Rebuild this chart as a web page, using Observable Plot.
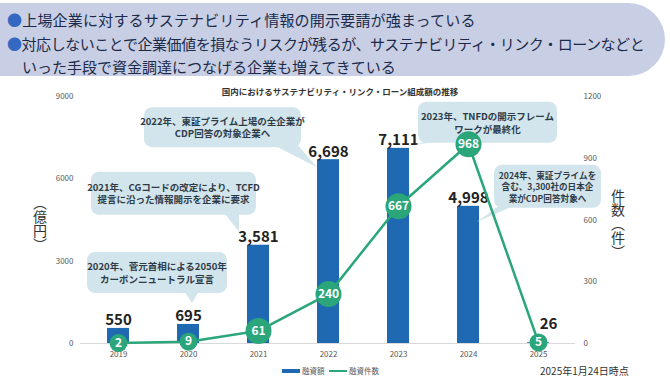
<!DOCTYPE html>
<html><head><meta charset="utf-8">
<script src="https://cdn.jsdelivr.net/npm/d3@7"></script>
<script src="https://cdn.jsdelivr.net/npm/@observablehq/plot@0.6"></script>
<style>
body{margin:0;background:#fff;font-family:"Noto Sans CJK JP","Noto Sans",sans-serif;}
#wrap{position:relative;width:670px;height:378px;overflow:hidden;}
#banner{position:absolute;left:0;top:3px;width:665px;height:73px;background:#c8cfe4;border-radius:0 38px 38px 0;}
.hl{position:absolute;font-size:15px;color:#1b2a4a;white-space:nowrap;line-height:1;}
.hl .b{color:#3568c0}
#chart{position:absolute;left:0;top:78px;}
.vt{position:absolute;writing-mode:vertical-rl;font-size:14px;color:#333;line-height:1;}
#legend{position:absolute;left:0;top:363px;width:670px;height:15px;font-size:7.5px;color:#595959;}
#legend .sw{position:absolute;top:6px;height:4px;}
#legend .tx{position:absolute;top:2px;}
#foot{position:absolute;left:540px;top:363px;font-size:10px;color:#333;white-space:nowrap;}
#chart svg [aria-label$="tick label"]{fill:#595959;}
</style></head>
<body><div id="wrap">
<div id="banner"></div>
<div class="hl" style="left:7px;top:12px;letter-spacing:0.2px;"><span class="b">●</span>上場企業に対するサステナビリティ情報の開示要請が強まっている</div>
<div class="hl" style="left:7px;top:36px;letter-spacing:-0.45px;"><span class="b">●</span>対応しないことで企業価値を損なうリスクが残るが、サステナビリティ・リンク・ローンなどと</div>
<div class="hl" style="left:22px;top:59px;">いった手段で資金調達につなげる企業も増えてきている</div>
<div id="chart"></div>
<div class="vt" style="left:33px;top:196px;">（億円）</div>
<div class="vt" style="left:611px;top:189px;">件数（件）</div>
<div id="legend"></div>
<div id="foot">2025年1月24日時点</div>
</div>
<script>
const years = ["2019","2020","2021","2022","2023","2024","2025"];
const amounts = [550, 695, 3581, 6698, 7111, 4998, 26];
const counts = [2, 9, 61, 240, 667, 968, 5];
const leftTicks = [0, 3000, 6000, 9000];
const rightTicks = [0, 300, 600, 900, 1200];
const chartTitle = "国内におけるサステナビリティ・リンク・ローン組成額の推移";
const seriesNames = ["融資額", "融資件数"];
const noteYears = ["2020", "2021", "2022", "2023", "2024"];
const noteTexts = [
  ["2020年、菅元首相による2050年", "カーボンニュートラル宣言"],
  ["2021年、CGコードの改定により、TCFD", "提言に沿った情報開示を企業に要求"],
  ["2022年、東証プライム上場の全企業が", "CDP回答の対象企業へ"],
  ["2023年、TNFDの開示フレーム", "ワークが最終化"],
  ["2024年、東証プライムを", "含む、3,300社の日本企", "業がCDP回答対象へ"]
];
// layout of callouts relative to (band centre, bar top): box [dx, dy, w, h], tail base along bottom edge, tip offset
const noteLayout = [
  {box:[-101,-72,140,41], base:[97,112], tip:[4,-21]},
  {box:[-167,-73,165,43], base:[133,148], tip:[-19,-13]},
  {box:[-184,-52,157,40], base:[130,154], tip:[-11,8]},
  {box:[20,-46,139,41], base:[10,27], tip:[17,-3]},
  {box:[26,-41,107,43], base:[5,20], tip:[9,16]}
];

const ratio = leftTicks[leftTicks.length-1] / rightTicks[rightTicks.length-1];
const data = years.map((y,i)=>({year:y, amount:amounts[i], count:counts[i]}));
const BLUE = "#1f69b3", GREEN = "#2aa67a";
const fmt = d3.format(",");
const lastYear = years[years.length-1];

const plot = Plot.plot({
  width: 670, height: 285,
  marginTop: 18, marginBottom: 20, marginLeft: 80, marginRight: 95,
  x: {domain: years, paddingInner: 0.69, paddingOuter: 0.345, axis: null, label: null},
  y: {domain: [0, leftTicks[leftTicks.length-1]], axis: null, label: null},
  r: {type: "identity"},
  style: {fontFamily: '"Noto Sans CJK JP","Noto Sans",sans-serif', background: "transparent", overflow: "visible"},
  marks: [
    Plot.ruleY([0], {stroke: "#d9d9d9", strokeWidth: 1}),
    Plot.axisX({tickSize: 0, tickPadding: 8, fontSize: 8, label: null}),
    Plot.axisY(leftTicks, {anchor: "left", tickSize: 0, tickPadding: 7, fontSize: 8, label: null, tickFormat: d => String(d)}),
    Plot.axisY(rightTicks.map(d => d*ratio), {anchor: "right", tickSize: 0, tickPadding: 8, fontSize: 8, label: null, tickFormat: d => String(Math.round(d/ratio))}),
    Plot.barY(data, {x: "year", y: "amount", fill: BLUE}),
    Plot.text(data.filter(d => d.year !== lastYear), {x: "year", y: "amount", text: d => fmt(d.amount), lineAnchor: "bottom", dy: -3, fontSize: 15, fontWeight: 700, fill: "#222"}),
    Plot.text(data.filter(d => d.year === lastYear), {x: "year", y: "amount", text: d => fmt(d.amount), lineAnchor: "bottom", dx: 10, dy: -14, fontSize: 15, fontWeight: 700, fill: "#222"}),
    Plot.line(data, {x: "year", y: d => d.count*ratio, stroke: GREEN, strokeWidth: 2.5}),
    Plot.dot(data, {x: "year", y: d => d.count*ratio, r: d => d.count < 10 ? 9 : 13, fill: GREEN}),
    Plot.text(data, {x: "year", y: d => d.count*ratio, text: d => String(d.count), fill: "white", fontWeight: 700, fontSize: 12}),
    Plot.text([chartTitle], {frameAnchor: "top", text: d => d, dx: 12, dy: -8, fontSize: 8.5, fontWeight: 700, fill: "#333"})
  ]
});
document.getElementById("chart").appendChild(plot);

// callouts anchored to the bars via the plot's scales
const xs = plot.scale("x"), ys = plot.scale("y");
const lineNode = plot.querySelector('[aria-label="line"]');
const g = d3.create("svg:g").attr("aria-label", "callouts");
noteYears.forEach((yr, i) => {
  const d = data.find(e => e.year === yr);
  const cx = xs.apply(yr) + xs.bandwidth/2;
  const top = ys.apply(d.amount);
  const L = noteLayout[i];
  const bx = cx + L.box[0], by = top + L.box[1], bw = L.box[2], bh = L.box[3];
  const tx = cx + L.tip[0], ty = top + L.tip[1];
  const cg = g.append("g");
  cg.append("path").attr("d", `M${bx+L.base[0]},${by+bh-2}L${tx},${ty}L${bx+L.base[1]},${by+bh-2}Z`).attr("fill", "#d3e5ec");
  cg.append("rect").attr("x", bx).attr("y", by).attr("width", bw).attr("height", bh).attr("rx", 8).attr("fill", "#d3e5ec");
  const lines = noteTexts[i];
  const lh = lines.length > 2 ? 11.5 : 12.5;
  const fs = lines.length > 2 ? 8.6 : 9.5;
  lines.forEach((t, j) => {
    cg.append("text").attr("x", bx + bw/2).attr("y", by + bh/2 + (j - (lines.length-1)/2)*lh)
      .attr("text-anchor", "middle").attr("dominant-baseline", "central")
      .attr("font-size", fs).attr("font-weight", 700).attr("fill", "#2d3b48").text(t);
  });
});
plot.insertBefore(g.node(), lineNode);

// legend
const leg = d3.select("#legend");
leg.append("div").attr("class", "sw").style("left", "282px").style("width", "18px").style("background", BLUE);
leg.append("div").attr("class", "tx").style("left", "302px").text(seriesNames[0]);
leg.append("div").attr("class", "sw").style("left", "329px").style("width", "18px").style("height", "2px").style("top", "7px").style("background", GREEN);
leg.append("div").attr("class", "tx").style("left", "349px").text(seriesNames[1]);
</script>
</body></html>
